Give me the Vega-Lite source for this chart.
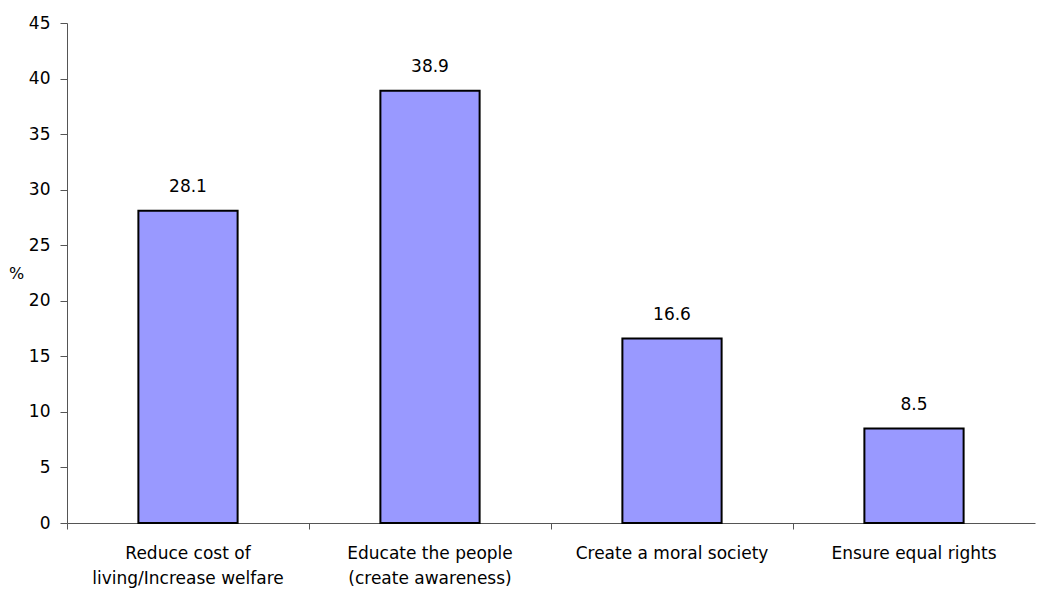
{
  "$schema": "https://vega.github.io/schema/vega-lite/v6.json",
  "width": 968,
  "height": 500,
  "autosize": {"type": "none"},
  "padding": {"left": 67, "top": 23, "right": 15, "bottom": 71},
  "background": "white",
  "config": {
    "view": {"stroke": null},
    "font": "DejaVu Sans",
    "axis": {"grid": false, "domainColor": "#555555", "tickColor": "#555555", "labelColor": "#000000", "labelFont": "DejaVu Sans", "labelFontSize": 17, "labelLimit": 400, "titleFont": "DejaVu Sans", "titleFontWeight": "normal", "titleColor": "#000000"}
  },
  "data": {
    "values": [
      {"goal": "Reduce cost of|living/Increase welfare", "pct": 28.1},
      {"goal": "Educate the people|(create awareness)", "pct": 38.9},
      {"goal": "Create a moral society", "pct": 16.6},
      {"goal": "Ensure equal rights", "pct": 8.5}
    ]
  },
  "encoding": {
    "x": {
      "field": "goal",
      "type": "nominal",
      "sort": null,
      "scale": {"paddingInner": 0, "paddingOuter": 0},
      "axis": {
        "title": null,
        "labelAngle": 0,
        "bandPosition": 0,
        "tickSize": 6,
        "labelPadding": 16,
        "labelLineHeight": 25,
        "labelExpr": "split(datum.label, '|')"
      }
    },
    "y": {
      "field": "pct",
      "type": "quantitative",
      "scale": {"domain": [0, 45]},
      "axis": {
        "title": "%",
        "titleAngle": 0,
        "titleAlign": "center",
        "titleBaseline": "middle",
        "titleX": -51,
        "titleFontSize": 16,
        "values": [0, 5, 10, 15, 20, 25, 30, 35, 40, 45],
        "tickSize": 7,
        "labelPadding": 10
      }
    }
  },
  "layer": [
    {
      "mark": {"type": "bar", "width": {"band": 0.41}, "fill": "#9999FF", "stroke": "#000000", "strokeWidth": 2}
    },
    {
      "mark": {"type": "text", "baseline": "alphabetic", "dy": -19, "fontSize": 17, "font": "DejaVu Sans", "color": "#000000"},
      "encoding": {"text": {"field": "pct", "type": "quantitative", "format": ".1f"}}
    }
  ]
}
